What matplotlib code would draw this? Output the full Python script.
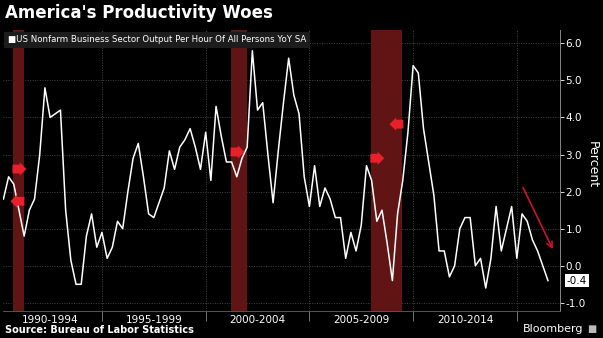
import numpy as np
import matplotlib
matplotlib.use('Agg')
import matplotlib.pyplot as plt

# quarterly productivity YoY %, 1990Q1 .. 2016Q2
start_year = 1990
values = [1.8, 2.4, 2.2, 1.5, 0.8, 1.5, 1.8, 3.0,
          4.8, 4.0, 4.1, 4.2, 1.5, 0.15, -0.5, -0.5,
          0.8, 1.4, 0.5, 0.9, 0.2, 0.5, 1.2, 1.0,
          2.0, 2.9, 3.3, 2.4, 1.4, 1.3, 1.7, 2.1,
          3.1, 2.6, 3.2, 3.4, 3.7, 3.2, 2.6, 3.6,
          2.3, 4.3, 3.5, 2.8, 2.8, 2.4, 2.9, 3.2,
          5.8, 4.2, 4.4, 3.0, 1.7, 3.1, 4.4, 5.6,
          4.6, 4.1, 2.4, 1.6, 2.7, 1.6, 2.1, 1.8,
          1.3, 1.3, 0.2, 0.9, 0.4, 1.1, 2.7, 2.3,
          1.2, 1.5, 0.6, -0.4, 1.4, 2.3, 3.6, 5.4,
          5.2, 3.7, 2.8, 1.9, 0.4, 0.4, -0.3, 0.0,
          1.0, 1.3, 1.3, 0.0, 0.2, -0.6, 0.2, 1.6,
          0.4, 1.0, 1.6, 0.2, 1.4, 1.2, 0.7, 0.4,
          0.0, -0.4]

# recessions (start, end) in fractional years
recessions = [(1990.71, 1991.24), (2001.22, 2001.98), (2007.97, 2009.46)]
# event tags: (year, value, direction)
tags = [(1990.95, 2.61, 'r'), (1991.0, 1.74, 'l'), (2001.46, 3.07, 'r'),
        (2008.2, 2.9, 'r'), (2009.27, 3.82, 'l')]
period_labels = ['1990-1994', '1995-1999', '2000-2004', '2005-2009', '2010-2014']
dividers = [1995, 2000, 2005, 2010, 2015]

t = start_year + 0.25 * (np.arange(len(values)) + 1)

fig = plt.figure(figsize=(6.03, 3.38), dpi=100, facecolor='black')
ax = fig.add_axes([3/603, 1 - 311/338, 557/603, 281/338], facecolor='black')

for a, b in recessions:
    ax.axvspan(a, b, color='#601414', lw=0, zorder=1)

for v in range(-1, 7):
    ax.axhline(v, color='#444444', lw=0.7, ls=(0, (1, 1.5)), zorder=0)
for d in dividers:
    ax.axvline(d, color='#444444', lw=0.7, ls=(0, (1, 1.5)), zorder=0)

ax.plot(t, values, color='white', lw=1.1, zorder=3)

for x, y, d in tags:
    ax.annotate('    ', (x, y), ha='center', va='center', fontsize=4, zorder=4,
                bbox=dict(boxstyle=('rarrow' if d == 'r' else 'larrow') + ',pad=0.35',
                          fc='#e8202a', ec='none'))

# trend arrow
ax.annotate('', xy=(2016.79, 0.38), xytext=(2015.24, 2.18),
            arrowprops=dict(arrowstyle='->', color='#d0102a', lw=1.2), zorder=4)

ax.set_xlim(1990.23, 2017.08)
ax.set_ylim(-1.22, 6.36)

ax.yaxis.tick_right()
ax.set_yticks(range(-1, 7))
ax.set_yticklabels(['%.1f' % v for v in range(-1, 7)])
ax.tick_params(axis='y', colors='white', labelsize=7.5, length=3, width=0.6, pad=1)
ax.set_xticks(dividers)
ax.set_xticklabels([])
ax.tick_params(axis='x', which='major', colors='#888888', length=7, width=0.6)
ax.set_xticks([y + 2.5 for y in range(1990, 2015, 5)], minor=True)
ax.set_xticklabels(period_labels, minor=True)
ax.tick_params(axis='x', which='minor', colors='white', labelsize=7.5, length=0, pad=3)

for s in ['left', 'top']:
    ax.spines[s].set_visible(False)
ax.spines['right'].set_color('#888888')
ax.spines['bottom'].set_color('#555555')
ax.spines['right'].set_linewidth(0.7)
ax.spines['bottom'].set_linewidth(0.7)

ax.annotate('-0.4', (1, -0.4), xycoords=('axes fraction', 'data'),
            xytext=(5, 0), textcoords='offset points', ha='left', va='center',
            fontsize=7.5, color='black',
            bbox=dict(boxstyle='square,pad=0.15', fc='white', ec='none'))

fig.text(592/603, 1 - 165/338, 'Percent', rotation=270, color='white',
         fontsize=9, ha='center', va='center')

fig.text(5/603, 1 - 13/338, "America's Productivity Woes", color='white',
         fontsize=12, fontweight='bold', ha='left', va='center')

fig.text(8/603, 1 - 40/338, '\u25A0US Nonfarm Business Sector Output Per Hour Of All Persons YoY SA',
         color='white', fontsize=6.2, ha='left', va='center',
         bbox=dict(boxstyle='square,pad=0.45', fc='#1c1c1c', ec='none'))

fig.text(5/603, 1 - 330/338, 'Source: Bureau of Labor Statistics', color='white',
         fontsize=7, fontweight='bold', ha='left', va='center')
fig.text(583/603, 1 - 329/338, 'Bloomberg', color='white', fontsize=8,
         ha='right', va='center')
fig.text(592/603, 1 - 329/338, '\u25A0', color='#bbbbbb', fontsize=7,
         ha='center', va='center')

fig.savefig('out.png', dpi=100, facecolor='black')
